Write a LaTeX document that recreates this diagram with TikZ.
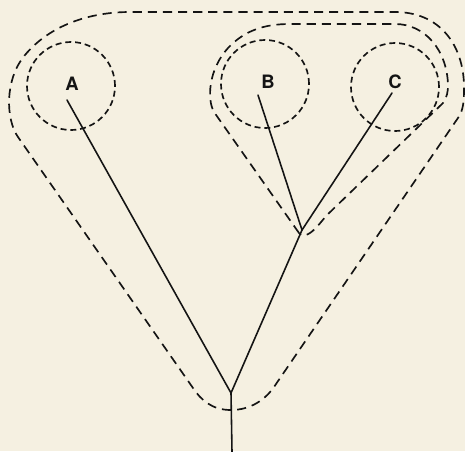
\documentclass[tikz,border=0pt]{standalone}
\usepackage{fontspec}
\setmainfont{TeX Gyre Heros}
\definecolor{paper}{RGB}{245,240,225}
\definecolor{ink}{RGB}{20,20,20}
\begin{document}
\begin{tikzpicture}[x=0.02cm,y=-0.02cm,
  ink/.style={draw=ink,line width=0.95pt},
  ring/.style={ink,dash pattern=on 3.4pt off 2.2pt,circle,minimum size=88*0.02cm,inner sep=0pt},
  hull/.style={ink,dash pattern=on 5.2pt off 3.4pt,line join=round},
  branch/.style={ink,line width=0.9pt,line cap=round},
  lab/.style={font=\fontsize{10.5}{12}\selectfont\bfseries,text=ink,inner sep=0pt}]
\fill[paper] (0,0) rectangle (465,451);
\useasboundingbox (0,0) rectangle (465,451);
% circles
\node[ring] (cA) at (71,86) {};
\node[ring] (cB) at (265,84) {};
\node[ring] (cC) at (395,87) {};
% labels
\node[lab] (A) at (72,84) {A};
\node[lab] (B) at (268,82) {B};
\node[lab] (C) at (395,82) {C};
% branch points
\coordinate (a1) at (67,100);
\coordinate (b1) at (258,95);
\coordinate (c1) at (392,93);
\coordinate (j2) at (302,230);
\coordinate (j1) at (231,393);
\coordinate (r) at (232,452);
\draw[branch] (a1) -- (j1);
\draw[branch] (b1) -- (j2);
\draw[branch] (c1) -- (j2);
\draw[branch] (j2) -- (j1) -- (r);
% inner hull around B and C
\draw[hull] (299,233) -- (214,112)
  .. controls (207,100) and (208,70) .. (228,48)
  .. controls (245,30) and (265,24) .. (290,24)
  -- (395,24)
  .. controls (425,24) and (447,50) .. (448,85)
  .. controls (448,92) and (447,97) .. (443,103)
  -- (326,216)
  .. controls (318,226) and (312,233) .. (306,235)
  .. controls (302,236) and (300,235) .. (299,233);
% outer hull around all
\draw[hull] (231,410)
  .. controls (212,410) and (201,400) .. (193,388)
  -- (18,137)
  .. controls (6,120) and (4,80) .. (25,55)
  .. controls (50,25) and (90,12) .. (130,12)
  -- (395,12)
  .. controls (440,12) and (463,45) .. (464,85)
  .. controls (464,98) and (464,106) .. (460,115)
  -- (276,384)
  .. controls (266,400) and (250,410) .. (231,410);
\end{tikzpicture}
\end{document}
